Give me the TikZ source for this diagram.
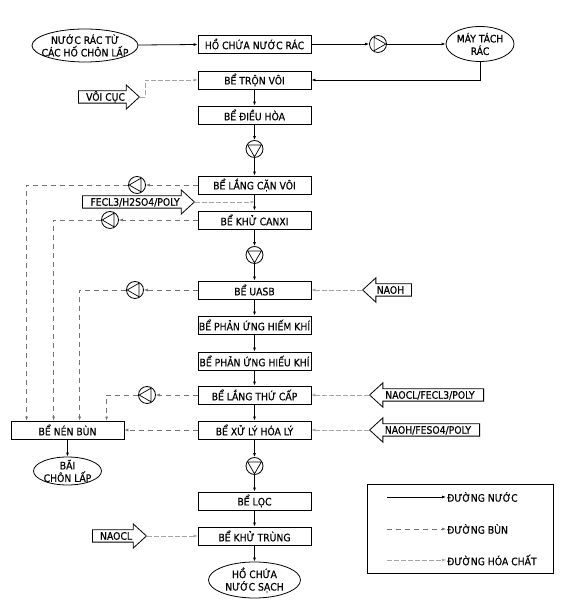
\documentclass[tikz,border=0pt]{standalone}
\usepackage{fontspec}
\setmainfont{DejaVu Sans Condensed}[FakeBold=0.5]
\usetikzlibrary{positioning,shapes.geometric,shapes.arrows,arrows.meta}

\begin{document}
\begin{tikzpicture}[x=1pt, y=1pt, >={Latex[length=4pt,width=3pt]},
    every node/.style={font=\fontsize{10.3}{12.5}\selectfont},
    box/.style={rectangle, draw, line width=0.8pt, minimum width=113pt, minimum height=18pt, inner sep=0pt},
    pond/.style={ellipse, draw, line width=0.8pt, inner sep=0pt},
    pondtext/.style={align=center, inner sep=0pt},
    pump/.style={circle, draw, line width=0.8pt, minimum size=17pt, inner sep=0pt,
        path picture={\draw[line width=0.7pt] ([shift={(#1:7.8pt)}]path picture bounding box.center)
            -- ([shift={({#1+120}:7.8pt)}]path picture bounding box.center)
            -- ([shift={({#1+240}:7.8pt)}]path picture bounding box.center) -- cycle;}},
    chemarrow/.style={single arrow, draw, line width=0.8pt, single arrow head extend=6pt,
        single arrow tip angle=85, inner sep=2pt, text height=7.5pt, text depth=0pt, anchor=tip},
    chemarrowL/.style={chemarrow, shape border rotate=180},
    water/.style={line width=0.8pt, ->},
    sludge/.style={dash pattern=on 5pt off 4pt, draw=gray!90!black, line width=0.6pt, ->},
    chem/.style={dash pattern=on 5pt off 2pt, draw=gray!70, line width=0.5pt, ->}]

    \useasboundingbox (0, 0) rectangle (565, 612);

    % Top row
    \node (src)[pond, minimum width=106pt, minimum height=33pt, label={[pondtext]center:NƯỚC RÁC TỪ\\CÁC HỐ CHÔN LẤP}] at (85, 566.5) {};
    \node (hoR)[box] at (254.5, 568) {HỒ CHỨA NƯỚC RÁC};
    \node (P0)[pump=0] at (378, 568) {};
    \node (sep)[pond, minimum width=68pt, minimum height=35pt, label={[pondtext]center:MÁY TÁCH\\RÁC}] at (480, 568) {};

    % Main line
    \node (tron)[box] at (254.5, 532) {BỂ TRỘN VÔI};
    \node (dieu)[box] at (254.5, 497) {BỂ ĐIỀU HÒA};
    \node (P1)[pump=270] at (254.5, 463) {};
    \node (lang)[box] at (254.5, 427) {BỂ LẮNG CẶN VÔI};
    \node (canxi)[box] at (254.5, 392) {BỂ KHỬ CANXI};
    \node (P2)[pump=270] at (254.5, 357) {};
    \node (uasb)[box] at (254.5, 322) {BỂ UASB};
    \node (hiem)[box] at (254.5, 287) {BỂ PHẢN ỨNG HIẾM KHÍ};
    \node (hieu)[box] at (254.5, 251) {BỂ PHẢN ỨNG HIẾU KHÍ};
    \node (lthu)[box] at (254.5, 217) {BỂ LẮNG THỨ CẤP};
    \node (xuly)[box] at (254.5, 182) {BỂ XỬ LÝ HÓA LÝ};
    \node (P3)[pump=270] at (254.5, 146) {};
    \node (loc)[box] at (254.5, 111) {BỂ LỌC};
    \node (khu)[box] at (254.5, 76) {BỂ KHỬ TRÙNG};
    \node (sach)[pond, minimum width=92pt, minimum height=36pt, label={[pondtext]center:HỒ CHỨA\\NƯỚC SẠCH}] at (254.5, 32) {};

    % Sludge side
    \node (PL1)[pump=180] at (137, 427) {};
    \node (PL2)[pump=180] at (110, 392) {};
    \node (PL3)[pump=180] at (135, 322) {};
    \node (PL4)[pump=180] at (147, 217) {};
    \node (nen)[box] at (67.5, 182) {BỂ NÉN BÙN};
    \node (bai)[pond, minimum width=68pt, minimum height=28pt, label={[pondtext]center:BÃI\\CHÔN LẤP}] at (67.5, 141) {};

    % Chemicals
    \node (voi)[chemarrow, minimum height=61pt] at (140, 515) {VÔI CỤC};
    \node (fecl)[chemarrow, minimum height=112pt] at (195, 410) {FECL3/H2SO4/POLY};
    \node (naoh)[chemarrowL, minimum height=49pt] at (362, 322) {NAOH};
    \node (naocl2)[chemarrowL, minimum height=114pt] at (369, 217) {NAOCL/FECL3/POLY};
    \node (naoh2)[chemarrowL, minimum height=110pt] at (369, 182) {NAOH/FESO4/POLY};
    \node (naocl)[chemarrow, minimum height=54pt] at (147, 76) {NAOCL};

    % Water lines
    \draw[water] (src) -- (hoR);
    \draw[water] (hoR) -- (P0);
    \draw[water] (P0) -- (sep);
    \draw[water] (sep) |- (tron);
    \draw[water] (tron) -- (dieu);
    \draw[water] (dieu) -- (P1);
    \draw[water] (P1) -- (lang);
    \draw[water] (lang) -- (canxi);
    \draw[water] (canxi) -- (P2);
    \draw[water] (P2) -- (uasb);
    \draw[water] (uasb) -- (hiem);
    \draw[water] (hiem) -- (hieu);
    \draw[water] (hieu) -- (lthu);
    \draw[water] (lthu) -- (xuly);
    \draw[water] (xuly) -- (P3);
    \draw[water] (P3) -- (loc);
    \draw[water] (loc) -- (khu);
    \draw[water] (khu) -- (sach);
    \draw[water] (nen) -- (bai);

    % Sludge lines
    \draw[sludge] (lang) -- (PL1);
    \draw[sludge] (PL1) -| ([xshift=16pt]nen.north west);
    \draw[sludge] (canxi) -- (PL2);
    \draw[sludge] (PL2) -| ([xshift=43pt]nen.north west);
    \draw[sludge] (uasb) -- (PL3);
    \draw[sludge] (PL3) -| ([xshift=69pt]nen.north west);
    \draw[sludge] (lthu) -- (PL4);
    \draw[sludge] (PL4) -| ([xshift=96pt]nen.north west);
    \draw[sludge] (xuly) -- (nen);

    % Chemical lines
    \draw[chem] (voi.tip) -- ([xshift=5pt]voi.tip) |- (tron);
    \draw[chem] (fecl.tip) -- (fecl.tip -| lang.south);
    \draw[chem] (naoh.tip) -- (uasb);
    \draw[chem] (naocl2.tip) -- (lthu);
    \draw[chem] (naoh2.tip) -- (xuly);
    \draw[chem] (naocl.tip) -- (khu);

    % Legend
    \node (leg)[rectangle, draw, line width=0.8pt, minimum width=186pt, minimum height=89pt] at (460, 83.5) {};
    \coordinate (l1) at (387, 115);
    \coordinate (l2) at (387, 83);
    \coordinate (l3) at (387, 52);
    \node (t1)[anchor=west, inner sep=1pt] at (446, 115) {ĐƯỜNG NƯỚC};
    \node (t2)[anchor=west, inner sep=1pt] at (446, 83) {ĐƯỜNG BÙN};
    \node (t3)[anchor=west, inner sep=1pt] at (446, 52) {ĐƯỜNG HÓA CHẤT};
    \draw[water] (l1) -- (t1);
    \draw[sludge] (l2) -- (t2);
    \draw[chem] (l3) -- (t3);
\end{tikzpicture}
\end{document}
